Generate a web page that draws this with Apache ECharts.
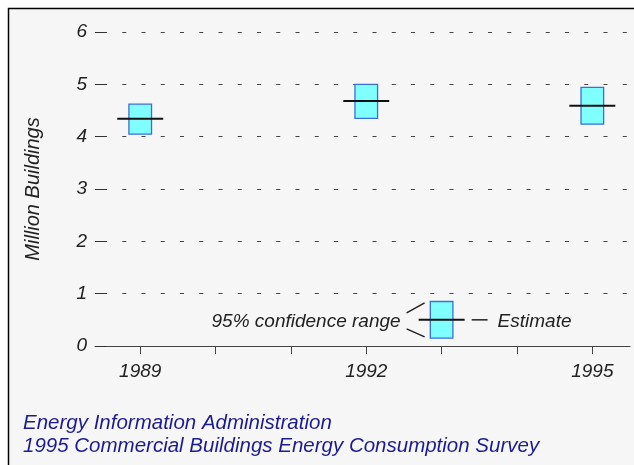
<!DOCTYPE html>
<html>
<head>
<meta charset="utf-8">
<script src="https://cdn.jsdelivr.net/npm/echarts@6/dist/echarts.min.js"></script>
<style>
  html, body { margin: 0; padding: 0; background: #ffffff; }
  #chart { width: 634px; height: 465px; }
</style>
</head>
<body>
<div id="chart"></div>
<script>
  // survey years and values (million buildings)
  const years = [1989, 1992, 1995];
  const estimates = [4.34, 4.68, 4.59];
  const lowerBounds = [4.05, 4.35, 4.24];
  const upperBounds = [4.62, 5.00, 4.94];

  // key drawn inside the plot
  const keyYear = [1993];
  const keyEstimate = [0.5];
  const keyLower = [0.15];
  const keyUpper = [0.85];

  // axis ticks
  const xTickYears = [1989, 1990, 1991, 1992, 1993, 1994, 1995];
  const xLabelYears = [1989, 1992, 1995];

  const FONT = '"Liberation Sans", Arial, sans-serif';
  const BOX_HALF = 0.15;   // years
  const LINE_HALF = 0.305; // years

  // italic label style, used through rich text
  const italicLabel = { fontSize: 19, fontStyle: 'italic', fontFamily: FONT, color: '#222222' };

  function boxParts(api) {
    let x = api.value(0), lo = api.value(1), hi = api.value(2), est = api.value(3);
    let tl = api.coord([x - BOX_HALF, hi]);
    let br = api.coord([x + BOX_HALF, lo]);
    let a = api.coord([x - LINE_HALF, est]);
    let b = api.coord([x + LINE_HALF, est]);
    return [
      {
        type: 'rect',
        shape: { x: tl[0], y: tl[1], width: br[0] - tl[0], height: br[1] - tl[1] },
        style: { fill: '#80ffff', stroke: '#3a6fd8', lineWidth: 1.3 }
      },
      {
        type: 'line',
        shape: { x1: a[0], y1: a[1], x2: b[0], y2: b[1] },
        style: { stroke: '#111111', lineWidth: 2 }
      }
    ];
  }

  function renderBox(params, api) {
    return { type: 'group', children: boxParts(api) };
  }

  // key: box plus pointer lines and captions
  function renderKey(params, api) {
    let children = boxParts(api);
    let c = api.coord([api.value(0), api.value(3)]);
    let cx = c[0], cy = c[1];
    let stroke = { stroke: '#222222', lineWidth: 1.5 };
    children.push(
      { type: 'line', shape: { x1: cx - 35, y1: cy - 7, x2: cx - 17, y2: cy - 17 }, style: stroke },
      { type: 'line', shape: { x1: cx - 35, y1: cy + 9, x2: cx - 17, y2: cy + 17 }, style: stroke },
      { type: 'line', shape: { x1: cx + 30, y1: cy, x2: cx + 46, y2: cy }, style: stroke },
      {
        type: 'text',
        style: { x: cx - 41, y: cy + 2, text: '95% confidence range', align: 'right', verticalAlign: 'middle',
                 fontSize: 19, fontStyle: 'italic', fontFamily: FONT, fill: '#222222' }
      },
      {
        type: 'text',
        style: { x: cx + 56, y: cy + 2, text: 'Estimate', align: 'left', verticalAlign: 'middle',
                 fontSize: 19, fontStyle: 'italic', fontFamily: FONT, fill: '#222222' }
      }
    );
    return { type: 'group', children: children };
  }

  let myChart = echarts.init(document.getElementById('chart'));
  let option = {
    animation: false,
    backgroundColor: '#ffffff',
    graphic: [
      {
        type: 'rect', z: -10, silent: true,
        shape: { x: 8.5, y: 8.5, width: 700, height: 600 },
        style: { fill: '#f6f6f6', stroke: '#000000', lineWidth: 1.5 }
      },
      {
        type: 'text', left: 23, top: 413,
        style: { text: 'Energy Information Administration', fontSize: 20.5, fontStyle: 'italic', fontFamily: FONT, fill: '#1c1c90' }
      },
      {
        type: 'text', left: 23, top: 436,
        style: { text: '1995 Commercial Buildings Energy Consumption Survey', fontSize: 20.5, fontStyle: 'italic', fontFamily: FONT, fill: '#1c1c90' }
      }
    ],
    grid: {
      left: 95,
      right: 4,
      top: 32,
      bottom: 119
    },
    xAxis: {
      type: 'value',
      min: 1988.4,
      max: 1995.5,
      axisLine: { show: true, lineStyle: { color: '#444444', width: 1 } },
      axisTick: {
        show: true,
        length: 8,
        customValues: xTickYears,
        lineStyle: { color: '#444444' }
      },
      axisLabel: {
        customValues: xLabelYears,
        margin: 16,
        formatter: (v) => '{i|' + v + '}',
        rich: { i: italicLabel }
      },
      splitLine: { show: false }
    },
    yAxis: {
      type: 'value',
      min: 0,
      max: 6,
      interval: 1,
      name: 'Million Buildings',
      nameLocation: 'middle',
      nameRotate: 90,
      nameGap: 52,
      nameTextStyle: { fontSize: 20, fontStyle: 'italic', fontFamily: FONT, color: '#222222' },
      axisLine: { show: false },
      axisTick: { show: true, inside: true, length: 11, lineStyle: { color: '#333333' } },
      axisLabel: {
        margin: 8,
        formatter: (v) => '{i|' + v + '}',
        rich: { i: italicLabel }
      },
      splitLine: {
        show: true,
        lineStyle: { color: '#444444', width: 1, type: [4, 15.25], dashOffset: -8 }
      }
    },
    series: [
      {
        type: 'custom',
        renderItem: renderBox,
        data: years.map((y, i) => [y, lowerBounds[i], upperBounds[i], estimates[i]])
      },
      {
        type: 'custom',
        renderItem: renderKey,
        clip: false,
        data: keyYear.map((y, i) => [y, keyLower[i], keyUpper[i], keyEstimate[i]])
      }
    ]
  };
  myChart.setOption(option);
</script>
</body>
</html>
